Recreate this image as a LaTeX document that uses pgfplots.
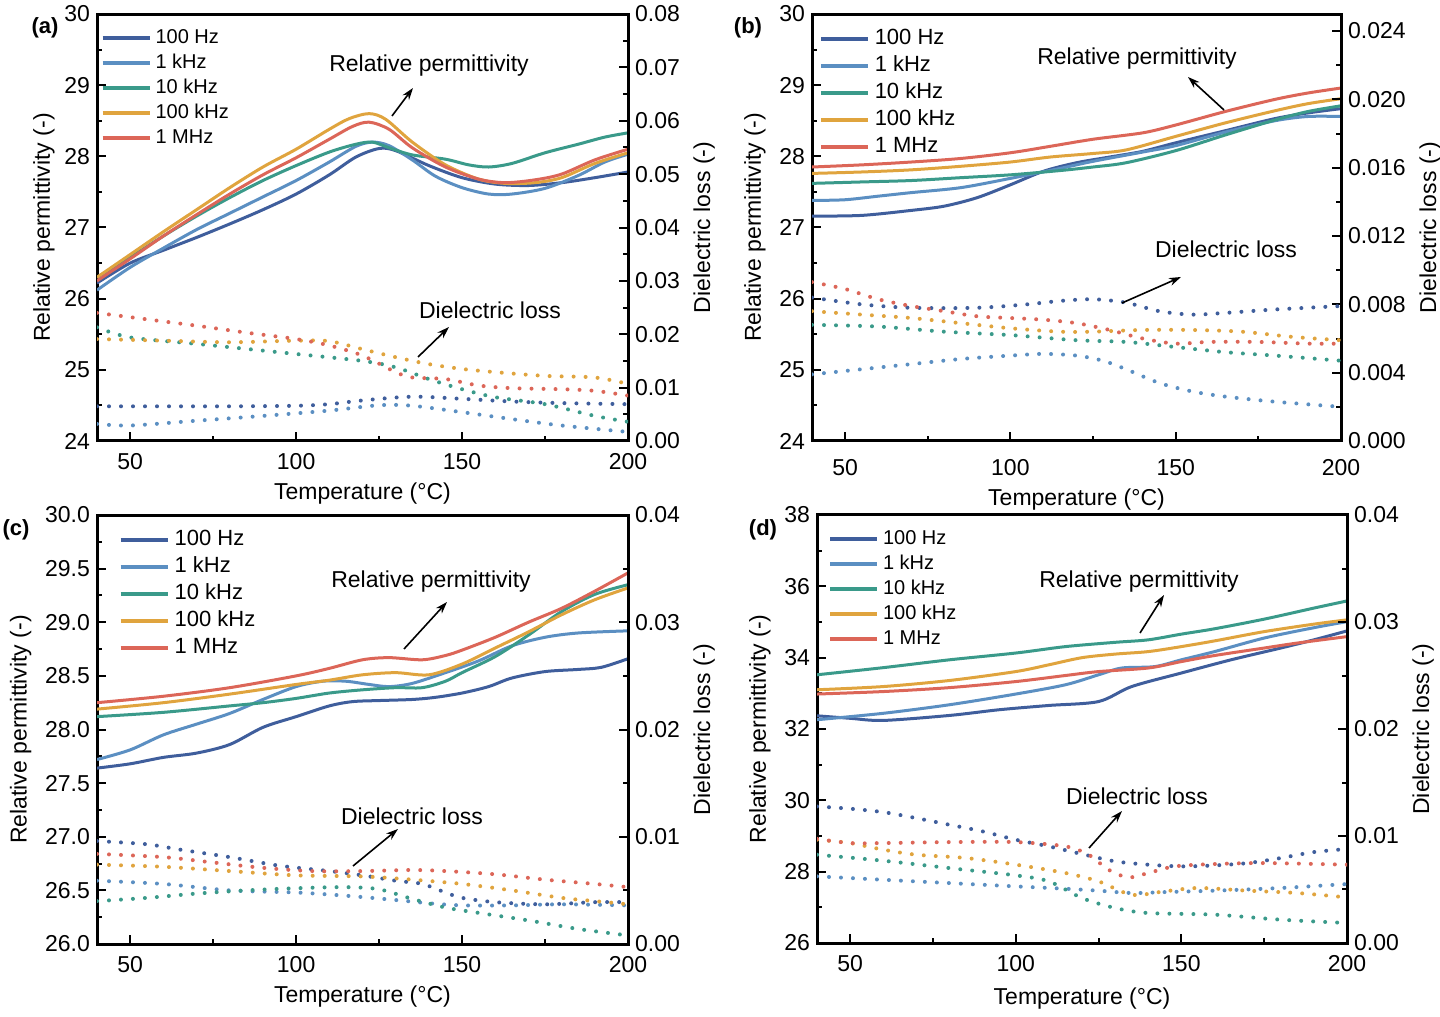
\documentclass[border=0pt]{standalone}
\usepackage{fontspec}
\setmainfont{Liberation Sans}
\usepackage{pgfplots}
\pgfplotsset{compat=1.18}
\usetikzlibrary{arrows.meta}

\definecolor{cA}{HTML}{3F5E9C}
\definecolor{cB}{HTML}{5B8FC2}
\definecolor{cC}{HTML}{3A9A8A}
\definecolor{cD}{HTML}{E0A43E}
\definecolor{cE}{HTML}{DC6658}

\pgfplotsset{
  common/.style={
    scale only axis, anchor=south west,
    xmin=40, xmax=200,
    tick align=inside,
    major tick length=4.5pt, minor tick length=2.5pt,
    tick style={line width=1pt, black},
    axis line style={line width=1.5pt},
    ticklabel style={font=\fontsize{11.5}{13}\selectfont},
    label style={font=\fontsize{11.5}{13}\selectfont},
    /pgf/number format/assume math mode=true,
    scaled y ticks=false,
  },
  leftax/.style={common,
    xtick={50,100,150,200}, minor xtick={75,125,175},
    xtick pos=bottom, ytick pos=left,
    xticklabel style={yshift=-2.5pt},
    xlabel={Temperature (°C)},
    ylabel={Relative permittivity (-)},
    legend cell align=left,
    legend image code/.code={\draw[##1, line width=2pt] (0pt,0pt) -- (23.5pt,0pt);},
  },
  rightax/.style={common,
    axis x line=none, axis y line*=right,
    ytick pos=right, yticklabel pos=right, ylabel near ticks,
    ylabel={Dielectric loss (-)},
    ylabel style={font=\fontsize{11.5}{13}\selectfont, xshift=0pt},
  },
  perm/.style={line width=1.5pt, smooth, tension=0.5},
  loss/.style={line width=2pt, line cap=round, dash pattern=on 0pt off 6pt, smooth, tension=0.5},
  legsmall/.style={legend style={at={(0.006,0.975)}, anchor=north west, draw=none, fill=none,
    inner sep=0pt, column sep=1pt, row sep=0pt,
    font=\fontsize{10}{12}\selectfont,
    nodes={inner sep=1pt, text height=8pt, text depth=2.5pt}}},
  legbig/.style={legend style={at={(0.012,0.973)}, anchor=north west, draw=none, fill=none,
    inner sep=0pt, column sep=1pt, row sep=0pt,
    font=\fontsize{11}{13}\selectfont,
    nodes={inner sep=1.5pt, text height=8pt, text depth=2.5pt}}},
}

\begin{document}
\begin{tikzpicture}
\useasboundingbox (0,0) rectangle (720pt,508.5pt);

% ---------------- (a) ----------------
\begin{axis}[leftax, legsmall, at={(48.5pt,288pt)}, width=265.5pt, height=213.5pt,
  ymin=24, ymax=30, ytick={24,25,26,27,28,29,30},
  minor ytick={24.5,25.5,26.5,27.5,28.5,29.5},
  ylabel style={xshift=0pt, yshift=-2pt}]
\addplot[perm, cA] coordinates {(40,26.22)(50,26.5)(60,26.68)(70,26.86)(80,27.05)(90,27.25)(100,27.47)(110,27.74)(118,27.99)(125,28.11)(130,28.08)(140,27.87)(150,27.7)(160,27.61)(170,27.59)(180,27.63)(190,27.7)(200,27.78)};
\addlegendentry{100 Hz}
\addplot[perm, cB] coordinates {(40,26.12)(50,26.44)(60,26.71)(70,26.97)(80,27.2)(90,27.43)(100,27.66)(110,27.92)(118,28.14)(123,28.2)(128,28.15)(135,27.95)(142,27.72)(150,27.56)(158,27.47)(165,27.47)(175,27.55)(185,27.73)(193,27.92)(200,28.03)};
\addlegendentry{1 kHz}
\addplot[perm, cC] coordinates {(40,26.3)(50,26.58)(60,26.88)(70,27.16)(80,27.42)(90,27.66)(100,27.87)(110,28.06)(118,28.17)(123,28.2)(128,28.12)(135,28.02)(145,27.96)(152,27.88)(158,27.85)(165,27.9)(175,28.05)(185,28.17)(193,28.27)(200,28.33)};
\addlegendentry{10 kHz}
\addplot[perm, cD] coordinates {(40,26.3)(50,26.62)(60,26.94)(70,27.25)(80,27.56)(90,27.85)(100,28.1)(110,28.38)(116,28.53)(122,28.6)(127,28.52)(135,28.2)(145,27.88)(155,27.68)(163,27.62)(172,27.63)(180,27.7)(190,27.9)(200,28.05)};
\addlegendentry{100 kHz}
\addplot[perm, cE] coordinates {(40,26.25)(50,26.56)(60,26.88)(70,27.18)(80,27.47)(90,27.74)(100,27.98)(110,28.24)(117,28.42)(122,28.48)(128,28.38)(135,28.12)(145,27.85)(155,27.68)(163,27.63)(172,27.67)(180,27.75)(190,27.95)(200,28.1)};
\addlegendentry{1 MHz}
\end{axis}
\begin{axis}[rightax, at={(48.5pt,288pt)}, width=265.5pt, height=213.5pt,
  ymin=0, ymax=0.08, ytick={0,0.01,0.02,0.03,0.04,0.05,0.06,0.07,0.08},
  minor ytick={0.005,0.015,0.025,0.035,0.045,0.055,0.065,0.075},
  yticklabel style={/pgf/number format/.cd, fixed, fixed zerofill, precision=2}]
\addplot[loss, cA] coordinates {(40,0.0065)(60,0.0065)(80,0.0065)(100,0.0066)(110,0.0069)(120,0.0076)(135,0.0083)(150,0.0079)(165,0.0074)(180,0.0071)(200,0.0069)};
\addplot[loss, cB] coordinates {(40,0.0032)(50,0.0029)(70,0.0038)(90,0.0047)(110,0.0057)(125,0.0067)(135,0.0066)(150,0.0054)(165,0.0041)(180,0.0029)(200,0.0017)};
\addplot[loss, cC] coordinates {(40,0.0213)(50,0.0194)(70,0.0182)(100,0.0163)(120,0.015)(130,0.0138)(140,0.0116)(150,0.0097)(160,0.0082)(175,0.0069)(190,0.0047)(200,0.0036)};
\addplot[loss, cD] coordinates {(40,0.0191)(60,0.0188)(80,0.0185)(100,0.0188)(110,0.0187)(120,0.0172)(130,0.0157)(140,0.0144)(150,0.0135)(160,0.0129)(175,0.0122)(190,0.0119)(200,0.0107)};
\addplot[loss, cE] coordinates {(40,0.024)(55,0.0228)(70,0.0216)(85,0.0203)(100,0.0191)(110,0.0179)(120,0.016)(130,0.0129)(135,0.0119)(145,0.0116)(155,0.0104)(165,0.0099)(180,0.0097)(190,0.0094)(200,0.0085)};
\end{axis}

% ---------------- (b) ----------------
\begin{axis}[leftax, legbig, at={(406pt,288pt)}, width=264.5pt, height=213.5pt,
  ymin=24, ymax=30, ytick={24,25,26,27,28,29,30},
  minor ytick={24.5,25.5,26.5,27.5,28.5,29.5},
  xticklabel style={yshift=-3pt}]
\addplot[perm, cA] coordinates {(40,27.16)(55,27.17)(70,27.24)(80,27.3)(90,27.42)(100,27.6)(110,27.79)(120,27.91)(130,27.99)(140,28.07)(150,28.19)(165,28.36)(180,28.53)(190,28.61)(200,28.67)};
\addlegendentry{100 Hz}
\addplot[perm, cB] coordinates {(40,27.38)(50,27.39)(60,27.44)(70,27.49)(85,27.56)(100,27.69)(115,27.83)(125,27.93)(140,28.06)(150,28.15)(165,28.34)(180,28.5)(190,28.56)(200,28.56)};
\addlegendentry{1 kHz}
\addplot[perm, cC] coordinates {(40,27.62)(55,27.64)(70,27.66)(85,27.7)(100,27.74)(115,27.8)(125,27.85)(135,27.91)(150,28.08)(165,28.3)(180,28.51)(190,28.63)(200,28.71)};
\addlegendentry{10 kHz}
\addplot[perm, cD] coordinates {(40,27.76)(55,27.78)(70,27.81)(85,27.86)(100,27.92)(112,27.99)(125,28.04)(135,28.09)(150,28.28)(165,28.47)(180,28.64)(190,28.74)(200,28.81)};
\addlegendentry{100 kHz}
\addplot[perm, cE] coordinates {(40,27.85)(55,27.88)(70,27.92)(85,27.97)(100,28.05)(112,28.14)(125,28.24)(140,28.33)(150,28.44)(165,28.63)(180,28.8)(190,28.89)(200,28.96)};
\addlegendentry{1 MHz}
\end{axis}
\begin{axis}[rightax, at={(406pt,288pt)}, width=264.5pt, height=213.5pt,
  ymin=0, ymax=0.025, ytick={0,0.004,0.008,0.012,0.016,0.02,0.024},
  minor ytick={0.002,0.006,0.01,0.014,0.018,0.022},
  yticklabel style={/pgf/number format/.cd, fixed, fixed zerofill, precision=3}]
\addplot[loss, cA] coordinates {(40,0.0084)(55,0.008)(70,0.0078)(90,0.0078)(105,0.008)(115,0.0082)(125,0.0083)(135,0.0081)(145,0.0076)(155,0.0074)(165,0.0075)(180,0.0077)(200,0.0079)};
\addplot[loss, cB] coordinates {(40,0.0039)(55,0.0042)(70,0.0045)(85,0.0048)(100,0.005)(110,0.0051)(120,0.005)(128,0.0047)(135,0.0042)(145,0.0034)(155,0.0029)(165,0.0026)(180,0.0023)(200,0.002)};
\addplot[loss, cC] coordinates {(40,0.0068)(60,0.0067)(80,0.0064)(100,0.0062)(120,0.0059)(135,0.0058)(150,0.0055)(165,0.0052)(180,0.005)(200,0.0047)};
\addplot[loss, cD] coordinates {(40,0.0076)(55,0.0074)(70,0.0072)(85,0.0069)(100,0.0066)(115,0.0064)(125,0.0064)(140,0.0065)(155,0.0065)(170,0.0064)(185,0.0061)(200,0.0059)};
\addplot[loss, cE] coordinates {(40,0.0093)(50,0.0089)(60,0.0083)(70,0.0079)(80,0.0076)(90,0.0073)(100,0.0072)(110,0.0071)(120,0.0069)(130,0.0065)(140,0.006)(150,0.0057)(160,0.0058)(175,0.0058)(190,0.0057)(200,0.0057)};
\end{axis}

% ---------------- (c) ----------------
\begin{axis}[leftax, legbig, at={(48.5pt,36.5pt)}, width=265.5pt, height=214.5pt,
  ymin=26, ymax=30, ytick={26,26.5,27,27.5,28,28.5,29,29.5,30},
  minor ytick={26.25,26.75,27.25,27.75,28.25,28.75,29.25,29.75},
  yticklabel style={/pgf/number format/.cd, fixed, fixed zerofill, precision=1},
  legend style={at={(0.04,0.973)}}]
\addplot[perm, cA] coordinates {(40,27.64)(50,27.68)(60,27.74)(70,27.78)(80,27.86)(90,28.02)(100,28.12)(110,28.22)(117,28.26)(125,28.27)(135,28.28)(142,28.3)(150,28.34)(158,28.4)(165,28.48)(175,28.54)(185,28.56)(192,28.58)(200,28.66)};
\addlegendentry{100 Hz}
\addplot[perm, cB] coordinates {(40,27.72)(50,27.81)(60,27.95)(70,28.05)(80,28.15)(90,28.28)(100,28.4)(108,28.45)(115,28.45)(122,28.42)(128,28.4)(135,28.43)(145,28.53)(155,28.64)(165,28.78)(175,28.86)(185,28.9)(200,28.92)};
\addlegendentry{1 kHz}
\addplot[perm, cC] coordinates {(40,28.12)(60,28.16)(80,28.22)(90,28.25)(100,28.29)(110,28.34)(120,28.37)(130,28.39)(138,28.39)(145,28.45)(150,28.53)(160,28.68)(170,28.88)(180,29.1)(190,29.26)(200,29.35)};
\addlegendentry{10 kHz}
\addplot[perm, cD] coordinates {(40,28.19)(60,28.25)(80,28.33)(100,28.42)(110,28.46)(120,28.51)(130,28.53)(140,28.51)(150,28.61)(160,28.76)(170,28.91)(180,29.07)(190,29.21)(200,29.32)};
\addlegendentry{100 kHz}
\addplot[perm, cE] coordinates {(40,28.25)(60,28.31)(80,28.39)(100,28.5)(110,28.57)(120,28.65)(128,28.67)(138,28.65)(145,28.69)(150,28.74)(160,28.86)(170,29.0)(180,29.13)(190,29.29)(200,29.46)};
\addlegendentry{1 MHz}
\end{axis}
\begin{axis}[rightax, at={(48.5pt,36.5pt)}, width=265.5pt, height=214.5pt,
  ymin=0, ymax=0.04, ytick={0,0.01,0.02,0.03,0.04},
  minor ytick={0.005,0.015,0.025,0.035},
  yticklabel style={/pgf/number format/.cd, fixed, fixed zerofill, precision=2}]
\addplot[loss, cA] coordinates {(40,0.0096)(55,0.0093)(65,0.0088)(80,0.0081)(95,0.0073)(110,0.0068)(120,0.0064)(130,0.0059)(138,0.0056)(145,0.0048)(150,0.0043)(160,0.0039)(175,0.0037)(190,0.0039)(200,0.0039)};
\addplot[loss, cB] coordinates {(40,0.0059)(60,0.0056)(80,0.005)(100,0.0048)(115,0.0045)(130,0.0041)(140,0.0038)(150,0.0036)(165,0.0036)(180,0.0037)(200,0.0036)};
\addplot[loss, cC] coordinates {(40,0.004)(55,0.0043)(70,0.0047)(85,0.005)(100,0.0052)(115,0.0053)(125,0.0051)(135,0.0042)(145,0.0034)(155,0.0029)(170,0.0022)(185,0.0014)(200,0.0008)};
\addplot[loss, cD] coordinates {(40,0.0074)(60,0.0072)(80,0.0068)(100,0.0064)(120,0.0063)(135,0.006)(150,0.0056)(165,0.005)(180,0.0043)(190,0.004)(200,0.0037)};
\addplot[loss, cE] coordinates {(40,0.0084)(60,0.0081)(75,0.0076)(90,0.0071)(105,0.0068)(120,0.0068)(135,0.0069)(145,0.0068)(160,0.0065)(175,0.006)(190,0.0056)(200,0.0053)};
\end{axis}

% ---------------- (d) ----------------
\begin{axis}[leftax, legsmall, at={(408.5pt,37pt)}, width=265pt, height=214pt,
  ymin=26, ymax=38, ytick={26,28,30,32,34,36,38},
  minor ytick={27,29,31,33,35,37},
  xlabel style={yshift=-1.5pt},
  legend style={at={(0.02,0.975)}}]
\addplot[perm, cA] coordinates {(40,32.37)(50,32.3)(60,32.24)(80,32.38)(95,32.54)(110,32.66)(125,32.77)(135,33.19)(150,33.57)(165,33.94)(180,34.27)(190,34.5)(200,34.75)};
\addlegendentry{100 Hz}
\addplot[perm, cB] coordinates {(40,32.26)(60,32.44)(80,32.68)(100,32.98)(115,33.24)(125,33.52)(132,33.71)(142,33.75)(150,33.94)(160,34.17)(175,34.55)(190,34.84)(200,35.01)};
\addlegendentry{1 kHz}
\addplot[perm, cC] coordinates {(40,33.52)(60,33.72)(80,33.94)(100,34.13)(115,34.31)(130,34.43)(140,34.5)(150,34.66)(160,34.81)(175,35.08)(190,35.39)(200,35.59)};
\addlegendentry{10 kHz}
\addplot[perm, cD] coordinates {(40,33.1)(60,33.19)(80,33.36)(100,33.61)(110,33.8)(120,34.0)(130,34.1)(140,34.17)(150,34.31)(160,34.47)(175,34.73)(190,34.94)(200,35.06)};
\addlegendentry{100 kHz}
\addplot[perm, cE] coordinates {(40,32.98)(60,33.05)(80,33.16)(100,33.33)(115,33.5)(125,33.61)(140,33.71)(150,33.89)(160,34.06)(175,34.27)(185,34.41)(200,34.59)};
\addlegendentry{1 MHz}
\end{axis}
\begin{axis}[rightax, at={(408.5pt,37pt)}, width=265pt, height=214pt,
  ymin=0, ymax=0.04, ytick={0,0.01,0.02,0.03,0.04},
  minor ytick={0.005,0.015,0.025,0.035},
  yticklabel style={/pgf/number format/.cd, fixed, fixed zerofill, precision=2}]
\addplot[loss, cA] coordinates {(40,0.01276)(50,0.01255)(60,0.01223)(70,0.01167)(80,0.01105)(90,0.01043)(100,0.00965)(110,0.00903)(120,0.00831)(130,0.00763)(140,0.00732)(150,0.00716)(160,0.00725)(170,0.00747)(180,0.00794)(190,0.0085)(200,0.00878)};
\addplot[loss, cB] coordinates {(40,0.00623)(60,0.00591)(80,0.0056)(100,0.00529)(115,0.00507)(125,0.00489)(135,0.00467)(145,0.00476)(160,0.00489)(180,0.00514)(200,0.00551)};
\addplot[loss, cC] coordinates {(40,0.00825)(60,0.00769)(80,0.007)(100,0.00632)(110,0.00576)(120,0.0042)(130,0.00327)(140,0.0028)(160,0.00265)(180,0.00218)(200,0.00187)};
\addplot[loss, cD] coordinates {(40,0.00965)(50,0.00934)(60,0.00872)(70,0.00825)(85,0.00794)(100,0.00732)(115,0.00654)(125,0.00576)(135,0.00451)(145,0.00483)(155,0.00514)(170,0.00489)(185,0.00467)(200,0.00426)};
\addplot[loss, cE] coordinates {(40,0.00974)(50,0.00934)(60,0.00934)(80,0.00943)(100,0.00943)(115,0.00903)(122,0.00825)(128,0.00685)(134,0.00613)(140,0.00654)(148,0.00716)(160,0.00738)(175,0.00747)(200,0.00732)};
\end{axis}

% ---------------- annotations, panel letters ----------------
\begin{scope}[shift={(0pt,508.5pt)}, x=0.5pt, y=-0.5pt,
  every node/.style={font=\fontsize{11.5}{13}\selectfont},
  ann/.style={line width=0.8pt, -{Stealth[length=6pt,width=4pt]}}]
\node at (429,66) {Relative permittivity};
\draw[ann] (392,116) -- (413,88);
\node at (490,310) {Dielectric loss};
\draw[ann] (418,357) -- (449,327);

\node at (1137,59) {Relative permittivity};
\draw[ann] (1224,110) -- (1188,77);
\node at (1226,249) {Dielectric loss};
\draw[ann] (1122,303) -- (1181,277);

\node at (431,582) {Relative permittivity};
\draw[ann] (404,649) -- (447,602);
\node at (412,816) {Dielectric loss};
\draw[ann] (353,866) -- (398,829);

\node at (1139,582) {Relative permittivity};
\draw[ann] (1140,633) -- (1164,595);
\node at (1137,796) {Dielectric loss};
\draw[ann] (1089,848) -- (1122,811);

\node[font=\fontsize{11}{13}\selectfont\bfseries] at (45,28) {(a)};
\node[font=\fontsize{11}{13}\selectfont\bfseries] at (748,28) {(b)};
\node[font=\fontsize{11}{13}\selectfont\bfseries] at (16,530) {(c)};
\node[font=\fontsize{11}{13}\selectfont\bfseries] at (763,530) {(d)};
\end{scope}
\end{tikzpicture}
\end{document}
